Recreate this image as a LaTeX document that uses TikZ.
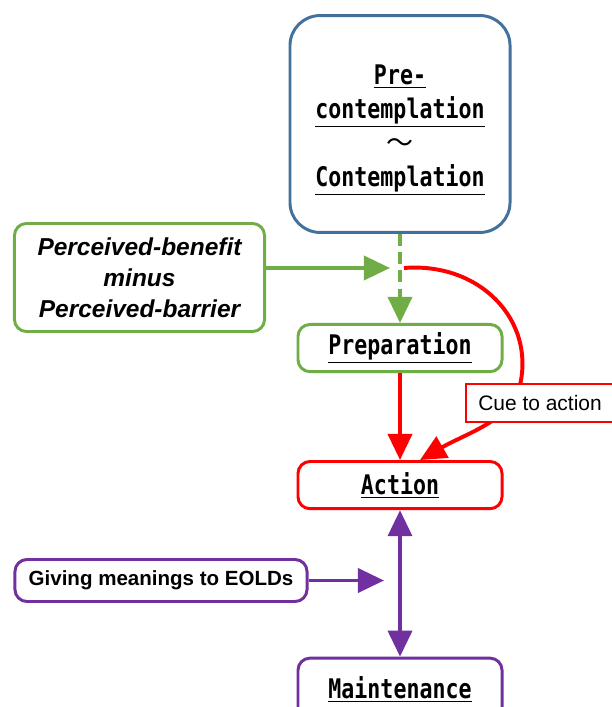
\documentclass[tikz,border=0pt]{standalone}
\usepackage{fontspec}
\setmainfont{Liberation Sans}
\newfontfamily\gothic[FakeStretch=0.8]{DejaVu Sans Mono}
\newfontfamily\cjk{Noto Sans CJK JP}
\usetikzlibrary{arrows.meta, positioning, backgrounds}
\usepackage{xcolor}
\definecolor{stageblue}{HTML}{41719C}
\definecolor{stagegreen}{HTML}{70AD47}
\definecolor{stagered}{HTML}{FF0000}
\definecolor{stagepurple}{HTML}{7030A0}

\newcommand{\stagetext}[1]{\underline{#1}}

\begin{document}
\begin{tikzpicture}[
    x=0.025cm, y=-0.025cm,
    >={Triangle[length=18.5pt,width=17pt]},
    stagebox/.style={rectangle, draw, line width=2.1pt, rounded corners=0.3cm, fill=white,
        align=center, minimum width=5.1cm, minimum height=1.18cm,
        font=\gothic\bfseries\fontsize{19.2pt}{24.2pt}\selectfont},
    sidebox/.style={rectangle, draw, line width=2.1pt, rounded corners=0.3cm, fill=white, align=center},
    arrow/.style={->, line width=2.8pt}
]
\useasboundingbox (0,0) rectangle (611,707);

% stages
\node (pre) [stagebox, draw=stageblue, rounded corners=0.75cm, minimum width=5.5cm, minimum height=5.42cm]
    at (400,124) {\raisebox{-0.3cm}[0pt][0pt]{\begin{tabular}{@{}c@{}}\stagetext{Pre-}\\ \stagetext{contemplation}\\
    {\cjk\mdseries 〜}\\ \stagetext{Contemplation}\end{tabular}}};
\node (prep) [stagebox, draw=stagegreen, below of=pre, node distance=5.6cm] {\stagetext{Preparation}};
\node (act) [stagebox, draw=stagered, below of=prep, node distance=3.425cm] {\stagetext{Action}};
\node (maint) [stagebox, draw=stagepurple, below of=act, node distance=5.1cm, minimum height=1.55cm] {\stagetext{Maintenance}};

% influences
\node (benefit) [sidebox, draw=stagegreen, minimum width=6.25cm, minimum height=2.7cm,
    font=\bfseries\itshape\fontsize{17.4pt}{22pt}\selectfont] at (139.5,277.5)
    {Perceived-benefit\\ minus\\ Perceived-barrier};
\node (cue) [sidebox, draw=stagered, rounded corners=0pt, minimum width=3.7cm, minimum height=0.95cm,
    font=\fontsize{14.9pt}{17pt}\selectfont] at (540,403) {Cue to action};
\node (meaning) [sidebox, draw=stagepurple, minimum width=7.3cm, minimum height=1.05cm,
    font=\bfseries\fontsize{14.6pt}{17pt}\selectfont] at (161,580.5) {Giving meanings to EOLDs};

\coordinate (split) at (404,268);

\draw [arrow, stagegreen, dash pattern=on 8.5pt off 4.5pt] (pre) -- (prep);
\draw [arrow, stagegreen] (benefit.east |- split) -- ([xshift=-0.35cm]split);
\begin{scope}[on background layer]
\draw [arrow, stagered] (split) .. controls (480,262) and (535,320) .. (520,385)
    .. controls (512,420) and (467,433) .. ([xshift=0.5cm]act.north);
\end{scope}
\draw [arrow, stagered] (prep) -- (act);
\draw [<->, line width=2.8pt, stagepurple] (act) -- (maint);
\draw [arrow, stagepurple] (meaning) -- ([xshift=-0.4cm]meaning.east -| act);

\end{tikzpicture}
\end{document}
